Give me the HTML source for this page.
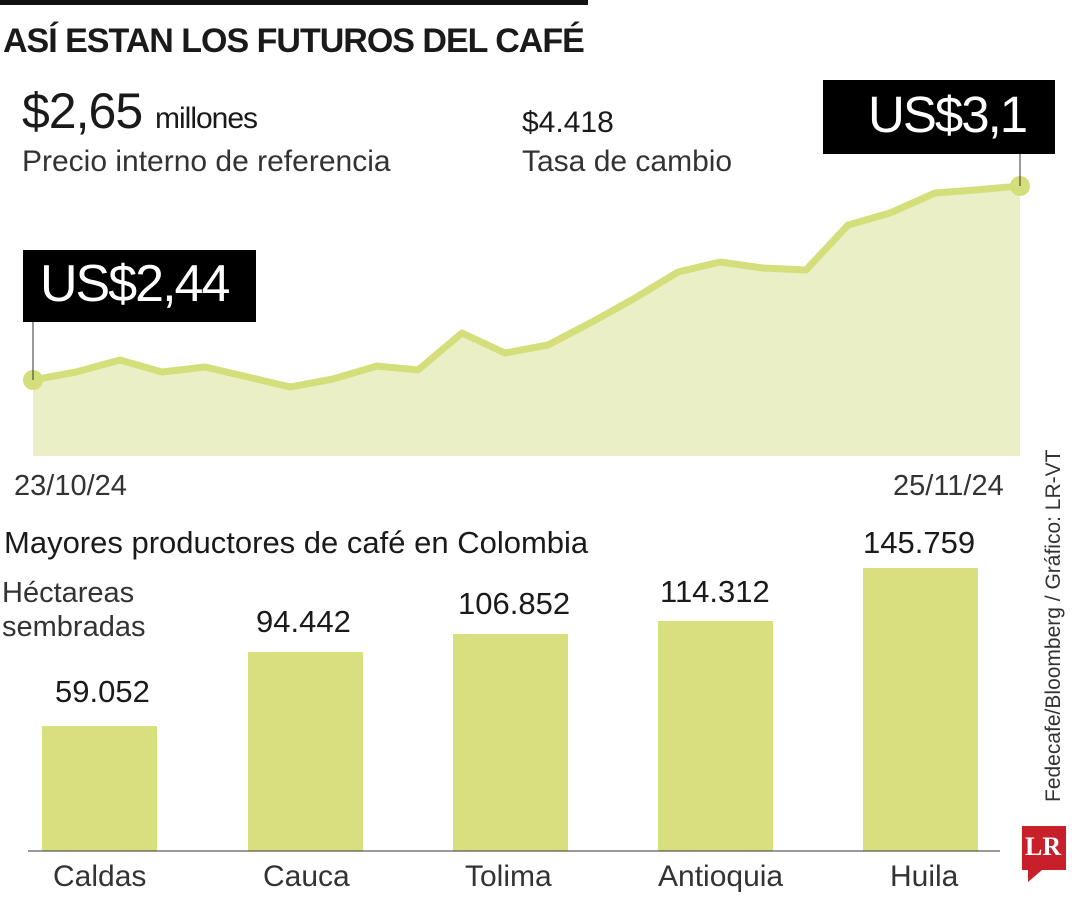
<!DOCTYPE html>
<html><head><meta charset="utf-8"><style>
body{margin:0;background:#fff;font-family:"Liberation Sans",sans-serif;}
.t{position:absolute;white-space:nowrap;color:#1a1a1a;}
</style></head><body>
<div style="position:relative;width:1080px;height:900px;overflow:hidden">
<div style="position:absolute;left:0;top:0;width:588px;height:5px;background:#111"></div>
<div class="t" style="left:3px;top:22px;font-size:34px;font-weight:bold;letter-spacing:-1px">ASÍ ESTAN LOS FUTUROS DEL CAFÉ</div>
<div class="t" style="left:22px;top:82px;font-size:50px;letter-spacing:-1px">$2,65 <span style="font-size:30px">millones</span></div>
<div class="t" style="left:22px;top:145px;font-size:30px;font-weight:300;color:#333">Precio interno de referencia</div>
<div class="t" style="left:522px;top:106px;font-size:30px">$4.418</div>
<div class="t" style="left:522px;top:145px;font-size:30px;color:#333">Tasa de cambio</div>
<svg style="position:absolute;left:0;top:0" width="1080" height="900">
<polygon fill="#eaefc5" points="33,456 33,380 76,372 120,360 162,372 205,367 248,377 290,387 333,379 377,366 418,370 462,333 505,353 548,345 592,322 635,298 678,272 720,262 763,268 806,270 848,225 890,213 935,193 975,190 1020,186 1020,456"/>
<polyline fill="none" stroke="#d4de7a" stroke-width="7" stroke-linejoin="round" points="33,380 76,372 120,360 162,372 205,367 248,377 290,387 333,379 377,366 418,370 462,333 505,353 548,345 592,322 635,298 678,272 720,262 763,268 806,270 848,225 890,213 935,193 975,190 1020,186"/>
<circle cx="33" cy="380" r="10" fill="#d4de7a"/><circle cx="1020" cy="186" r="10" fill="#d4de7a"/>
<line x1="33" y1="320" x2="33" y2="380" stroke="#333" stroke-width="1"/>
<line x1="1020" y1="150" x2="1020" y2="186" stroke="#333" stroke-width="1"/>
<rect x="23" y="250" width="233" height="72" fill="#000"/>
<rect x="823" y="80" width="232" height="74" fill="#000"/>
<g fill="#d8df7f">
<rect x="42" y="726" width="115" height="125"/>
<rect x="248" y="652" width="115" height="199"/>
<rect x="453" y="634" width="115" height="217"/>
<rect x="658" y="621" width="115" height="230"/>
<rect x="863" y="568" width="115" height="283"/>
</g>
<line x1="28" y1="851" x2="1000" y2="851" stroke="#333" stroke-width="1"/>
<path d="M1022,826 h44 v44 h-24 l-14,12 v-12 h-6 z" fill="#c8202a"/>
</svg>
<div class="t" style="left:40px;top:254px;font-size:52px;letter-spacing:-2px;color:#fff">US$2,44</div>
<div class="t" style="left:868px;top:85px;font-size:51px;letter-spacing:-2px;color:#fff">US$3,1</div>
<div class="t" style="left:14px;top:470px;font-size:29px;color:#333">23/10/24</div>
<div class="t" style="left:893px;top:470px;font-size:29px;color:#333">25/11/24</div>
<div class="t" style="left:4px;top:525px;font-size:31px">Mayores productores de café en Colombia</div>
<div class="t" style="left:2px;top:576px;font-size:29px;line-height:34px;color:#333">Héctareas<br>sembradas</div>
<div class="t" style="left:55px;top:674px;font-size:31px">59.052</div>
<div class="t" style="left:256px;top:604px;font-size:31px">94.442</div>
<div class="t" style="left:458px;top:586px;font-size:31px">106.852</div>
<div class="t" style="left:660px;top:574px;font-size:31px">114.312</div>
<div class="t" style="left:863px;top:525px;font-size:31px">145.759</div>
<div class="t" style="left:53px;top:860px;font-size:30px;color:#333">Caldas</div>
<div class="t" style="left:263px;top:860px;font-size:30px;color:#333">Cauca</div>
<div class="t" style="left:465px;top:860px;font-size:30px;color:#333">Tolima</div>
<div class="t" style="left:658px;top:860px;font-size:30px;color:#333">Antioquia</div>
<div class="t" style="left:890px;top:860px;font-size:30px;color:#333">Huila</div>
<div class="t" style="left:1042px;top:802px;font-size:21px;color:#333;transform:rotate(-90deg);transform-origin:0 0">Fedecafe/Bloomberg / Gráfico: LR-VT</div>
<div class="t" style="left:1025px;top:832px;font-size:26px;font-weight:bold;color:#fff;font-family:'Liberation Serif',serif">LR</div>
</div>
</body></html>
